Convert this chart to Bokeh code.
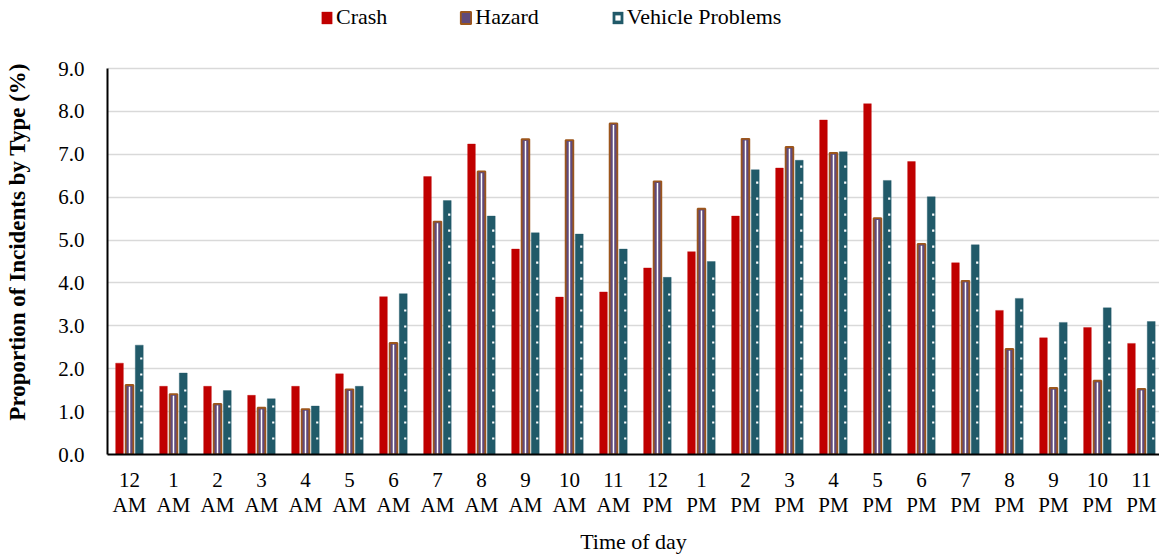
import numpy as np
from bokeh.plotting import figure
from bokeh.models import Range1d, FixedTicker, Legend, LegendItem
from bokeh.embed import file_html
from bokeh.resources import INLINE

hours = ["12 AM", "1 AM", "2 AM", "3 AM", "4 AM", "5 AM", "6 AM", "7 AM", "8 AM",
         "9 AM", "10 AM", "11 AM", "12 PM", "1 PM", "2 PM", "3 PM", "4 PM", "5 PM",
         "6 PM", "7 PM", "8 PM", "9 PM", "10 PM", "11 PM"]
crash = [2.13, 1.59, 1.59, 1.38, 1.59, 1.88, 3.68, 6.48, 7.24, 4.79, 3.67, 3.79,
         4.35, 4.73, 5.56, 6.68, 7.80, 8.18, 6.83, 4.47, 3.36, 2.72, 2.96, 2.59]
hazard = [1.62, 1.41, 1.18, 1.09, 1.06, 1.52, 2.60, 5.43, 6.60, 7.35, 7.33, 7.72,
          6.37, 5.73, 7.36, 7.17, 7.03, 5.51, 4.91, 4.05, 2.46, 1.55, 1.72, 1.53]
vehicle = [2.55, 1.90, 1.49, 1.30, 1.13, 1.59, 3.75, 5.92, 5.56, 5.17, 5.14, 4.79,
           4.13, 4.50, 6.64, 6.86, 7.06, 6.39, 6.01, 4.89, 3.64, 3.08, 3.42, 3.10]
series = ["Crash", "Hazard", "Vehicle Problems"]
y_ticks = [0, 1, 2, 3, 4, 5, 6, 7, 8, 9]

FONT = "Liberation Serif"
idx = np.arange(len(hours)) + 0.5

# frame spans the whole top of the canvas; the value axis stops at 9.0
y_max = 9 * 454 / 386
p = figure(width=1159, height=556, output_backend="svg", toolbar_location=None,
           x_range=Range1d(0, 23.91), y_range=Range1d(0, y_max),
           min_border_left=107, min_border_right=0, min_border_top=0,
           min_border_bottom=102)
p.outline_line_color = None
p.background_fill_color = "white"
p.border_fill_color = "white"

r_crash = p.vbar(x=idx - 0.227, top=crash, width=0.175, fill_color="#C00000",
                 line_color="#C00000", line_alpha=0.35, line_width=1)
r_hf = p.vbar(x=idx, top=hazard, width=0.175, fill_color="#604A7B", line_color=None)
p.vbar(x=idx, top=np.array(hazard) - 0.04, width=0.034, fill_color="white",
       line_color=None)
r_ho = p.vbar(x=idx, top=hazard, width=0.175, fill_alpha=0, line_color="#9C561C",
              line_width=1.8)
r_v = p.vbar(x=idx + 0.222, top=vehicle, width=0.18, fill_color="#215A69",
             line_color="#215A69", line_alpha=0.35, line_width=1)

# white dot texture on the vehicle bars
step = 0.373
dx, dy = [], []
for i, v in enumerate(vehicle):
    ys = np.arange(step, v - 0.12, step)
    dx.extend([idx[i] + 0.222 + 0.045] * len(ys))
    dy.extend(list(ys))
r_dots = p.scatter(x=dx, y=dy, marker="square", size=2.2, fill_color="white",
                   line_color=None)

# axes
p.xaxis.ticker = FixedTicker(ticks=list(idx))
p.xaxis.major_label_overrides = {float(x): h.replace(" ", "\n") for x, h in zip(idx, hours)}
p.yaxis.ticker = FixedTicker(ticks=y_ticks)
p.yaxis.major_label_overrides = {t: f"{t:.1f}" for t in y_ticks}
p.yaxis.bounds = (0, 9)

for ax in (p.xaxis[0], p.yaxis[0]):
    ax.axis_line_color = "black"
    ax.axis_line_width = 2
    ax.major_tick_line_color = None
    ax.minor_tick_line_color = None
    ax.major_label_text_font = FONT
    ax.major_label_text_font_size = "21px"
    ax.major_label_text_color = "black"
    ax.axis_label_text_font = FONT
    ax.axis_label_text_color = "black"

p.xaxis.major_label_standoff = 7
p.xaxis.major_label_text_line_height = 1.05
p.xaxis.axis_label = "Time of day"
p.xaxis.axis_label_text_font_size = "22px"
p.xaxis.axis_label_text_font_style = "normal"
p.xaxis.axis_label_standoff = 9

p.yaxis.major_label_standoff = 17
p.yaxis.axis_label = "Proportion of Incidents by Type (%)" + "\u00a0" * 5
p.yaxis.axis_label_text_font_size = "23px"
p.yaxis.axis_label_text_font_style = "bold"
p.yaxis.axis_label_standoff = 25

p.xgrid.grid_line_color = None
p.ygrid.grid_line_color = "#D9D9D9"
p.ygrid.grid_line_width = 1.5

legend = Legend(items=[
    LegendItem(label=series[0], renderers=[r_crash]),
    LegendItem(label=series[1], renderers=[r_hf, r_ho]),
    LegendItem(label=series[2], renderers=[r_v, r_dots]),
], orientation="horizontal", location=(213, 424))
legend.padding = 0
legend.margin = 0
legend.spacing = 72
legend.glyph_width = 13
legend.glyph_height = 15
legend.label_standoff = 3
legend.label_text_font = FONT
legend.label_text_font_size = "22px"
legend.label_text_color = "black"
legend.border_line_color = None
legend.background_fill_alpha = 0
p.add_layout(legend)

open("out.html", "w").write(file_html(p, INLINE))
